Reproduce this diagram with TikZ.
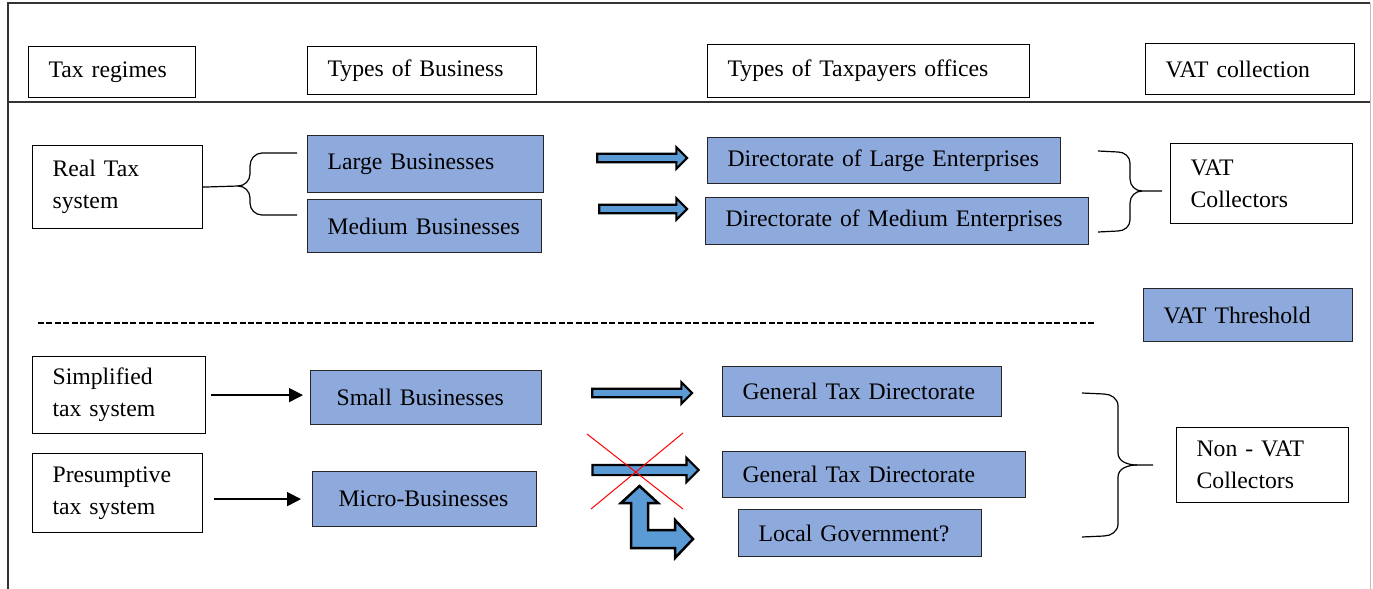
\documentclass[tikz,border=0pt]{standalone}
\usepackage{fontspec}
\setmainfont{Liberation Serif}
\usetikzlibrary{arrows.meta,shapes.arrows}
\definecolor{boxblue}{HTML}{8EA9DB}
\definecolor{arrowblue}{HTML}{5B9BD5}
\tikzset{
  box/.style={draw, line width=1.2bp, anchor=north west, align=left, inner xsep=20bp, inner ysep=0pt,
    font=\fontsize{23.7bp}{32bp}\selectfont},
  bluebox/.style={box, fill=boxblue, draw=black!85},
  blockarr/.style={single arrow, draw=black, line width=2.2bp, fill=arrowblue, inner sep=3.2bp,
    single arrow head extend=6.5bp, single arrow head indent=0pt},
  feed/.style={line width=1.8bp, -{Triangle[length=14bp,width=14bp]}},
  brace/.style={line width=1.2bp}
}
\begin{document}
\begin{tikzpicture}[x=1bp, y=-1bp]
\useasboundingbox (0,0) rectangle (1373,589);
\draw[line width=1.2bp, black!80] (8,589) -- (8,3) -- (1370,3);
\draw[line width=1bp, black!25] (1370,3) -- (1370,589);
\draw[line width=1.2bp, black!80] (8,102) -- (1370,102);

\node[box, text width=127bp, minimum height=51bp] (regimes) at (28,46) {Tax regimes};
\node[box, text width=189bp, minimum height=48bp] (types) at (307,46) {Types of Business};
\node[box, text width=282bp, minimum height=53bp] (offices) at (707,44) {Types of Taxpayers offices};
\node[box, text width=169bp, minimum height=51bp] (collection) at (1145,43) {VAT collection};

\node[box, text width=130bp, minimum height=83bp] (real) at (32,145) {Real Tax\\system};
\node[bluebox, text width=196bp, minimum height=57bp] (large) at (307,135) {Large Businesses};
\node[bluebox, text width=194bp, minimum height=53bp] (medium) at (307,199) {Medium Businesses};
\node[bluebox, text width=313bp, minimum height=46bp] (dirlarge) at (707,137) {Directorate of Large Enterprises};
\node[bluebox, text width=343bp, minimum height=47bp] (dirmedium) at (705,197) {Directorate of Medium Enterprises};
\node[box, text width=142bp, minimum height=80bp] (vat) at (1170,143) {VAT\\Collectors};
\node[blockarr, minimum height=90bp] (arlarge) at (640,158) {};
\node[blockarr, minimum height=88bp] (armedium) at (641,209) {};

\draw[brace] (real.east) -- (238,186) to[out=0,in=270] (250,174) -- (250,166) to[out=90,in=180] (262,153) -- (297,153);
\draw[brace] (238,186) to[out=0,in=90] (250,198) -- (250,203) to[out=270,in=180] (262,215) -- (297,215);
\draw[brace] (1162,191) -- (1142,191) to[out=180,in=270] (1130,179) -- (1130,163) to[out=90,in=0] (1118,152) -- (1098,151);
\draw[brace] (1142,191) to[out=180,in=90] (1130,203) -- (1130,220) to[out=270,in=0] (1118,231) -- (1098,232);

\draw[line width=1.5bp, dash pattern=on 6bp off 2.4bp] (38,323) -- (1095,323);
\node[bluebox, text width=169bp, minimum height=53bp] (threshold) at (1143,288) {VAT Threshold};

\node[box, text width=133bp, minimum height=77bp] (simplified) at (32,356) {Simplified\\tax system};
\node[bluebox, inner xsep=26bp, text width=179bp, minimum height=54bp] (small) at (310,370) {Small Businesses};
\node[bluebox, text width=239bp, minimum height=50bp] (general) at (722,366) {General Tax Directorate};
\node[box, text width=130bp, minimum height=79bp] (presumptive) at (32,453) {Presumptive\\tax system};
\node[bluebox, inner xsep=26bp, text width=172bp, minimum height=55bp] (micro) at (312,471) {Micro-Businesses};
\node[bluebox, text width=263bp, minimum height=46bp] (generalb) at (722,451) {General Tax Directorate};
\node[bluebox, text width=203bp, minimum height=47bp] (local) at (738,509) {Local Government?};
\node[box, text width=132bp, minimum height=75bp] (nonvat) at (1176,427) {Non - VAT\\Collectors};

\draw[feed, shorten <=5bp, shorten >=7bp] (simplified.east) -- (simplified.east -| small.west);
\draw[feed, shorten <=11bp, shorten >=11bp] (micro.west -| presumptive.east) -- (micro.west);
\node[blockarr, minimum height=100bp] (arsmall) at (640,393) {};
\node[blockarr, minimum height=106bp, inner sep=4bp, single arrow head extend=7bp] (armicro) at (643,470) {};
\draw[red, line width=1bp] (587,434) -- (683,509) (683,433) -- (591,509);
\draw[line width=2.5bp, fill=arrowblue] (639.5,486) -- (658,503) -- (648,503) -- (648,530) -- (675,530) -- (675,520)
  -- (693,539) -- (675,558) -- (675,548) -- (631,548) -- (631,503) -- (621,503) -- cycle;

\draw[brace] (1153,465) -- (1137,465) to[out=180,in=270] (1118,453) -- (1118,406) to[out=90,in=0] (1104,394) -- (1082,393);
\draw[brace] (1137,465) to[out=180,in=90] (1118,477) -- (1118,524) to[out=270,in=0] (1104,536) -- (1082,537);
\end{tikzpicture}
\end{document}
